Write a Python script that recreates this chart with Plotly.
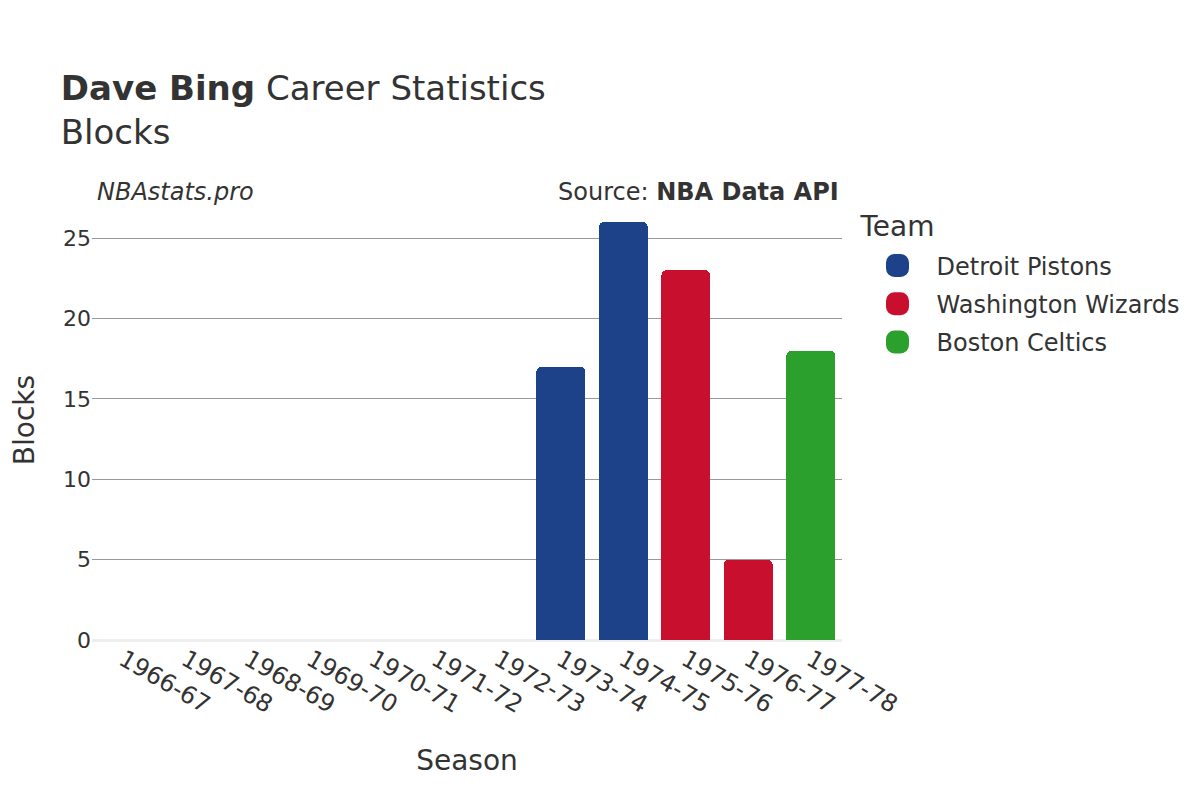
import plotly.graph_objects as go

seasons = ["1966-67", "1967-68", "1968-69", "1969-70", "1970-71", "1971-72",
           "1972-73", "1973-74", "1974-75", "1975-76", "1976-77", "1977-78"]

teams = ["Detroit Pistons", "Washington Wizards", "Boston Celtics"]
team_colors = ["#1D428A", "#C8102E", "#2CA02C"]

detroit_seasons = ["1966-67", "1967-68", "1968-69", "1969-70", "1970-71", "1971-72",
                   "1972-73", "1973-74", "1974-75"]
detroit_blocks = [None, None, None, None, None, None, None, 17, 26]

washington_seasons = ["1975-76", "1976-77"]
washington_blocks = [23, 5]

boston_seasons = ["1977-78"]
boston_blocks = [18]

series = [
    (detroit_seasons, detroit_blocks),
    (washington_seasons, washington_blocks),
    (boston_seasons, boston_blocks),
]

font_family = "DejaVu Sans"
text_color = "#333333"

fig = go.Figure()
for (x, y), name, color in zip(series, teams, team_colors):
    fig.add_trace(go.Bar(x=x, y=y, name=name, legendgroup=name,
                         marker=dict(color=color, line=dict(width=0, color=color))))

fig.update_layout(
    width=1200, height=800,
    barmode="stack",
    bargap=0.22,
    barcornerradius=5,
    plot_bgcolor="white",
    paper_bgcolor="white",
    font=dict(family=font_family, color=text_color, size=22),
    margin=dict(l=84, r=366, t=192, b=168, autoexpand=False),
    title=dict(
        text="<b>Dave Bing</b> Career Statistics<br>Blocks",
        font=dict(size=34, color=text_color),
        x=0.044, xanchor="left", y=0.885, yanchor="top",
    ),
    legend=dict(
        title=dict(text="Team", font=dict(size=28)),
        font=dict(size=24),
        x=1.022, xanchor="left", y=1.0 - 7 / 440, yanchor="top",
        traceorder="grouped",
        tracegroupgap=4,
        itemwidth=68,
    ),
    xaxis=dict(
        title=dict(text="Season", font=dict(size=28), standoff=32),
        categoryorder="array", categoryarray=seasons,
        tickangle=30,
        tickfont=dict(size=24),
        showgrid=False,
        automargin=False,
    ),
    yaxis=dict(
        title=dict(text="Blocks", font=dict(size=28), standoff=28),
        tickfont=dict(size=22),
        gridcolor="#999999",
        zeroline=True, zerolinecolor="#eeeeee", zerolinewidth=3,
        dtick=5,
        automargin=True,
    ),
    annotations=[
        dict(text="<i>NBAstats.pro</i>", xref="paper", yref="paper",
             x=0.0, y=1.0, xanchor="left", yanchor="middle", xshift=3, yshift=8,
             showarrow=False, font=dict(size=24)),
        dict(text="Source: <b>NBA Data API</b>", xref="paper", yref="paper",
             x=1.0, y=1.0, xanchor="right", yanchor="middle", xshift=-1, yshift=8,
             showarrow=False, font=dict(size=24)),
    ],
)

legend_js = """
var gd = document.getElementsByClassName('plotly-graph-div')[0];
function styleLegend() {
  var paths = gd.querySelectorAll('.legendpoints path');
  paths.forEach(function(p) {
    var f = p.style.fill || p.getAttribute('fill');
    p.style.stroke = f;
    p.style.strokeWidth = '11px';
    p.style.strokeLinejoin = 'round';
  });
  var t = gd.querySelector('.legendtitletext');
  if (t && !t.getAttribute('data-shifted')) {
    t.setAttribute('transform', 'translate(0,-7)');
    t.setAttribute('data-shifted', '1');
  }
}
styleLegend();
gd.on('plotly_afterplot', styleLegend);
"""

fig.write_html("out.html", post_script=legend_js)
